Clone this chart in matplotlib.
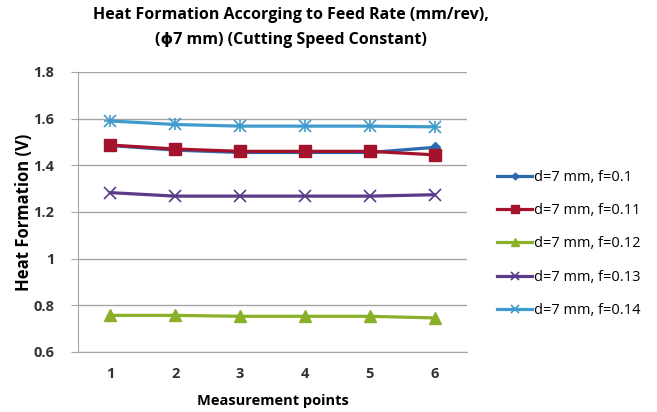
import matplotlib.pyplot as plt

points = [1, 2, 3, 4, 5, 6]
f_01 = [1.485, 1.465, 1.455, 1.455, 1.455, 1.477]
f_011 = [1.487, 1.47, 1.46, 1.46, 1.46, 1.445]
f_012 = [0.757, 0.757, 0.753, 0.753, 0.753, 0.746]
f_013 = [1.283, 1.268, 1.268, 1.268, 1.268, 1.274]
f_014 = [1.59, 1.575, 1.568, 1.568, 1.568, 1.565]
labels = ["d=7 mm, f=0.1", "d=7 mm, f=0.11", "d=7 mm, f=0.12",
          "d=7 mm, f=0.13", "d=7 mm, f=0.14"]

plt.rcParams["font.family"] = ["Open Sans", "DejaVu Sans"]

fig = plt.figure(figsize=(6.57, 4.12), dpi=100)
ax = fig.add_axes([78 / 657, 1 - 352 / 412, (467 - 78) / 657, (352 - 72) / 412])

styles = [
    dict(color="#2F68AC", marker="D", markersize=5),
    dict(color="#A3132B", marker="s", markersize=9),
    dict(color="#8AB02A", marker="^", markersize=8),
    dict(color="#5B3A8A", marker="x", markersize=8, markeredgewidth=1.2),
    dict(color="#3E9BCB", marker="x", markersize=8, markeredgewidth=1.2),
]
series = [f_01, f_011, f_012, f_013, f_014]
for vals, lab, st in zip(series, labels, styles):
    ax.plot(points, vals, label=lab, linewidth=2.3, **st)
# star-like marker for the last series
ax.plot(points, f_014, linestyle="none", marker="+", markersize=9,
        color="#3E9BCB", markeredgewidth=1.2)

ax.set_xlim(0.5, 6.5)
ax.set_ylim(0.6, 1.8)
ax.set_yticks([0.6, 0.8, 1.0, 1.2, 1.4, 1.6, 1.8])
ax.set_yticklabels(["0.6", "0.8", "1", "1.2", "1.4", "1.6", "1.8"])
ax.set_xticks(points)
ax.grid(axis="y", color="#A6A6A6", linewidth=1)
ax.set_axisbelow(True)
for s in ["top", "right"]:
    ax.spines[s].set_visible(False)
for s in ["left", "bottom"]:
    ax.spines[s].set_color("#A6A6A6")
ax.tick_params(axis="x", length=0, pad=11, labelsize=10.5)
ax.tick_params(axis="y", length=5, color="#A6A6A6", pad=12, labelsize=10.5)
for t in ax.get_xticklabels() + ax.get_yticklabels():
    t.set_fontweight("bold")
    t.set_color("#333333")

ax.set_xlabel("Measurement points", fontsize=10.5, fontweight="bold", labelpad=9)
ax.set_ylabel("Heat Formation (V)", fontsize=12, fontweight="bold", labelpad=0)
ax.set_title("Heat Formation Accorging to Feed Rate (mm/rev),\n(\u03d57 mm) (Cutting Speed Constant)",
             fontsize=11.5, fontweight="bold", pad=20, x=0.548, linespacing=1.75)

fig.legend(loc="center left", bbox_to_anchor=(484 / 657, 1 - 244 / 412),
           frameon=False, fontsize=10.5, handlelength=2.4, labelspacing=1.25,
           handletextpad=0.1, markerscale=0.7)

fig.savefig("out.png", dpi=100)
